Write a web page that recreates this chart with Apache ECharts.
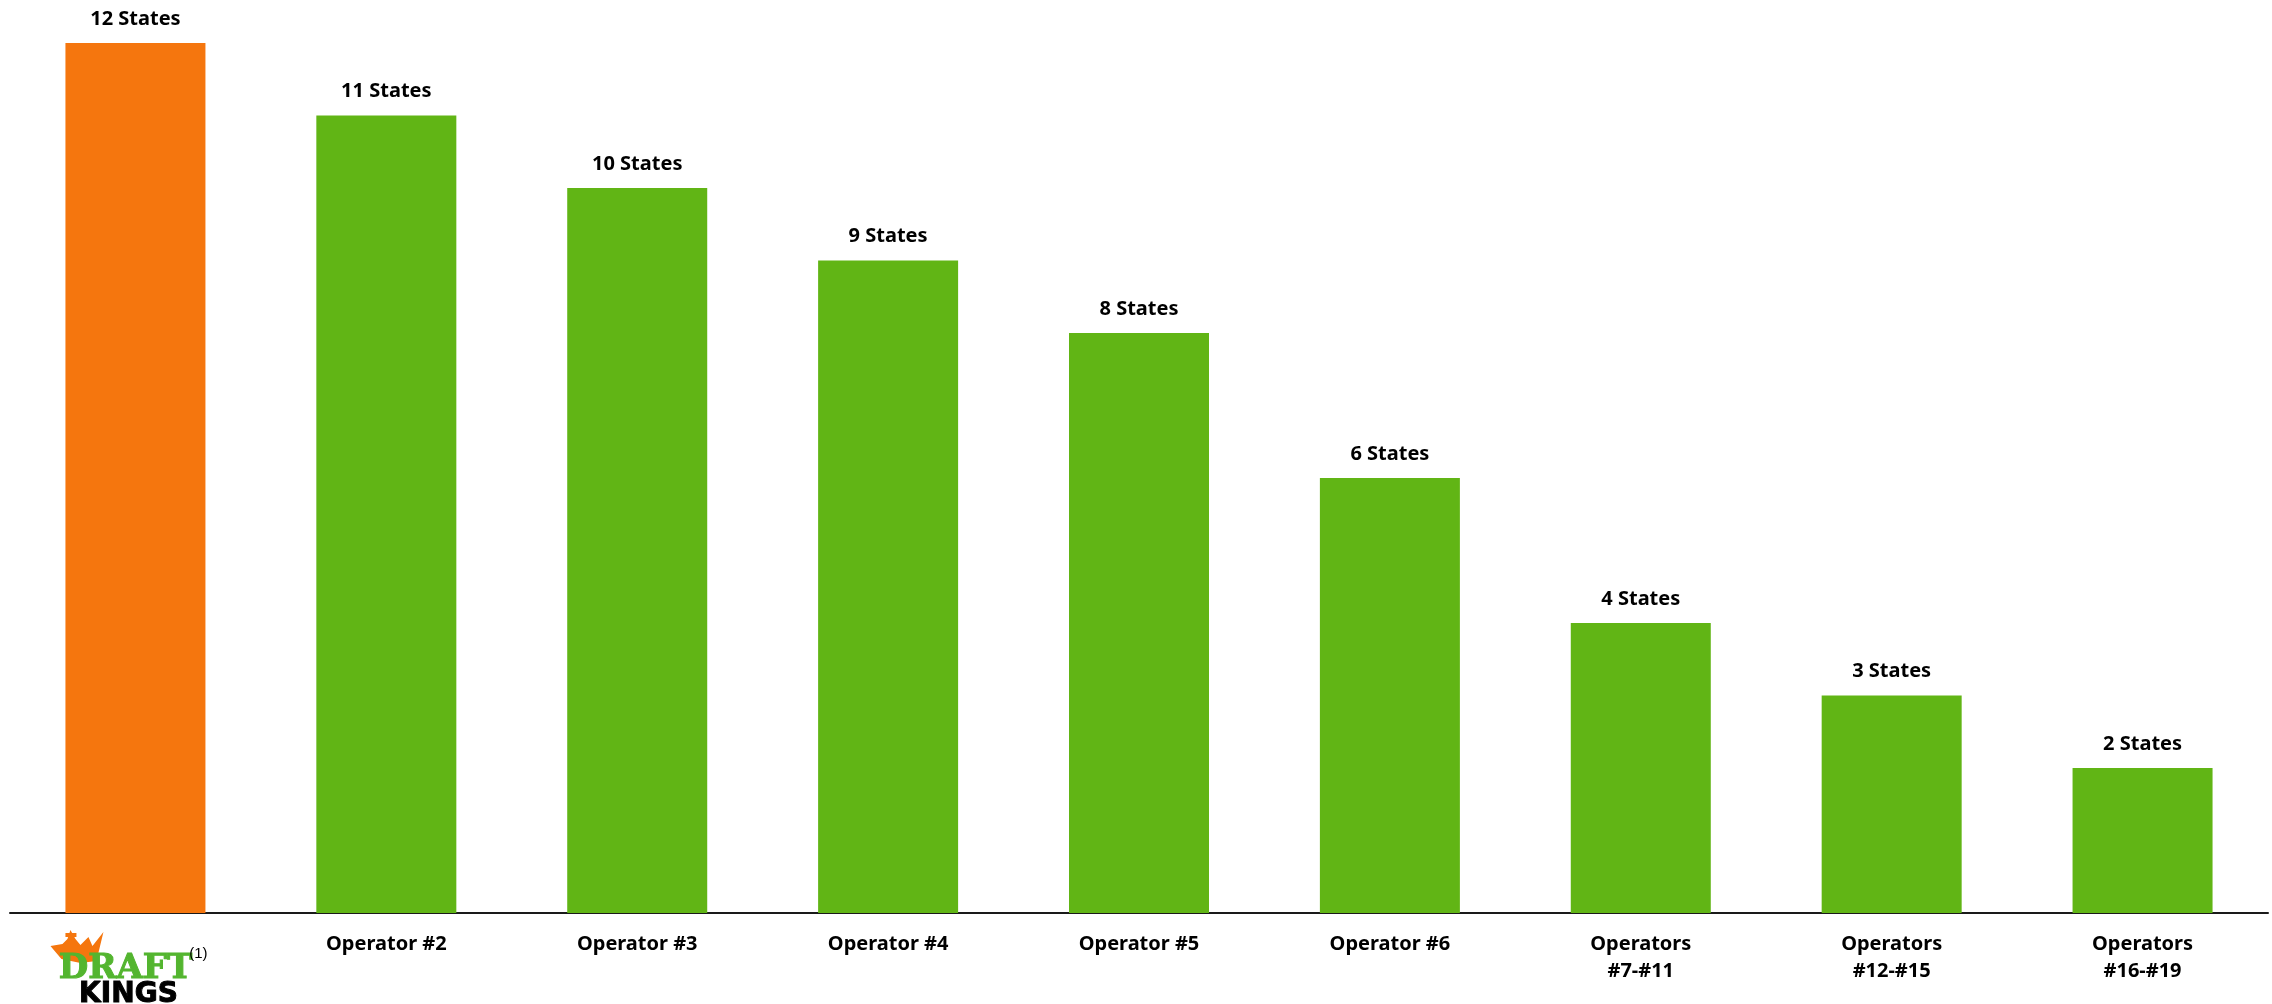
<!DOCTYPE html>
<html>
<head>
<meta charset="utf-8">
<style>
  html, body { margin: 0; padding: 0; background: #ffffff; }
  #chart { width: 2272px; height: 1004px; }
</style>
<script src="https://cdn.jsdelivr.net/npm/echarts@6/dist/echarts.min.js"></script>
</head>
<body>
<div id="chart"></div>
<script>
const categories = ['DraftKings', 'Operator #2', 'Operator #3', 'Operator #4', 'Operator #5', 'Operator #6', 'Operators\n#7-#11', 'Operators\n#12-#15', 'Operators\n#16-#19'];
const stateCounts = [12, 11, 10, 9, 8, 6, 4, 3, 2];
const valueLabels = ['12 States', '11 States', '10 States', '9 States', '8 States', '6 States', '4 States', '3 States', '2 States'];
const highlightIndex = 0;

const ORANGE = '#F5760E';
const GREEN = '#61B515';
const FONT = '"Noto Sans", "Open Sans", sans-serif';

const chart = echarts.init(document.getElementById('chart'), null, { renderer: 'canvas' });

const option = {
  backgroundColor: '#ffffff',
  animation: false,
  grid: { left: 10, right: 4, top: 43, bottom: 91, containLabel: false, outerBoundsMode: 'none' },
  xAxis: {
    type: 'category',
    data: categories,
    axisLine: { show: true, lineStyle: { color: '#1a1a1a', width: 2 } },
    axisTick: { show: false },
    axisLabel: {
      interval: 0,
      margin: 18,
      color: '#000000',
      fontFamily: FONT,
      fontWeight: 'bold',
      fontSize: 20,
      lineHeight: 27,
      formatter: (v, i) => (i === highlightIndex ? '' : v)
    }
  },
  yAxis: {
    type: 'value',
    min: 0,
    max: 12,
    show: false,
    splitLine: { show: false }
  },
  series: [{
    type: 'bar',
    barWidth: 140,
    data: stateCounts.map((v, i) => ({
      value: v,
      itemStyle: { color: i === highlightIndex ? ORANGE : GREEN }
    })),
    label: {
      show: true,
      position: 'top',
      distance: 14,
      color: '#000000',
      fontFamily: FONT,
      fontWeight: 'bold',
      fontSize: 20,
      formatter: p => valueLabels[p.dataIndex]
    }
  }]
};

chart.setOption(option);

// DraftKings logo drawn under the first category, anchored to the axis position
function drawLogo() {
  const cx = chart.convertToPixel({ xAxisIndex: 0 }, categories[highlightIndex]);
  const ay = chart.convertToPixel({ yAxisIndex: 0 }, 0);
  const crownPts = [
    [-85, 33], [-73, 31], [-68, 26], [-65, 17], [-60, 26], [-55, 32],
    [-47, 24], [-43, 33], [-32, 19], [-39, 48], [-55, 50], [-74, 46]
  ];
  chart.setOption({
    graphic: [{
      type: 'group',
      id: 'logo',
      x: cx,
      y: ay,
      silent: true,
      children: [
        { type: 'polygon', shape: { points: crownPts }, style: { fill: ORANGE } },
        { type: 'rect', shape: { x: -70, y: 20, width: 11, height: 4 }, style: { fill: ORANGE } },
        { type: 'text', x: -10, y: 56, style: {
            text: 'DRAFT', fill: '#53B52F', font: 'bold 34px "DejaVu Serif", serif',
            align: 'center', verticalAlign: 'middle', stroke: '#53B52F', lineWidth: 1 } },
        { type: 'text', x: -7, y: 82, style: {
            text: 'KINGS', fill: '#000000', font: 'bold 28px "DejaVu Sans", sans-serif',
            align: 'center', verticalAlign: 'middle', stroke: '#000000', lineWidth: 1 } },
        { type: 'text', x: 63, y: 41, style: {
            text: '(1)', fill: '#000000', font: '15px "Liberation Sans", Arial, sans-serif',
            align: 'center', verticalAlign: 'middle' } }
      ]
    }]
  });
}
drawLogo();
</script>
</body>
</html>
